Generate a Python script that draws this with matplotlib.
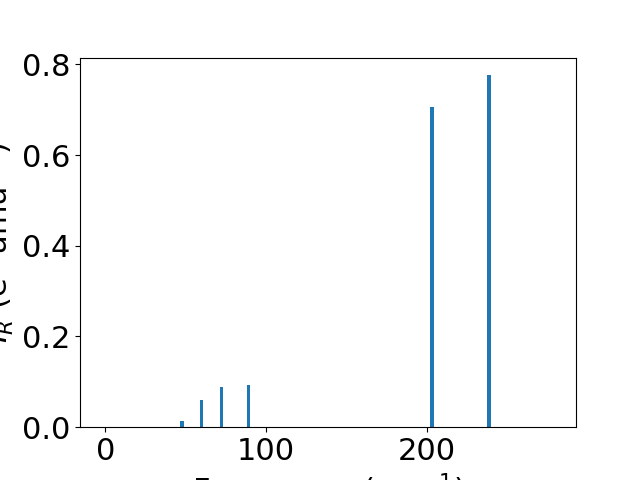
import matplotlib
matplotlib.use("Agg")
import matplotlib.pyplot as plt

# IR-active modes: frequency (cm^-1) and intensity
frequencies = [47.9, 59.8, 72.2, 89.0, 203.3, 238.8]
intensities = [0.014, 0.060, 0.089, 0.093, 0.705, 0.776]

plt.rcParams["font.size"] = 22

fig, ax = plt.subplots(figsize=(6.4, 4.8), dpi=100)
ax.bar(frequencies, intensities, width=2.2, color="#1f77b4")
ax.set_xlim(-15.7, 292.9)
ax.set_ylim(0, max(intensities) * 1.05)
ax.set_xlabel("Frequency (cm$^{-1}$)")
ax.set_ylabel("$I_R$ (e$^2$ amu$^{-1}$)")

fig.savefig("out.png", dpi=100)
